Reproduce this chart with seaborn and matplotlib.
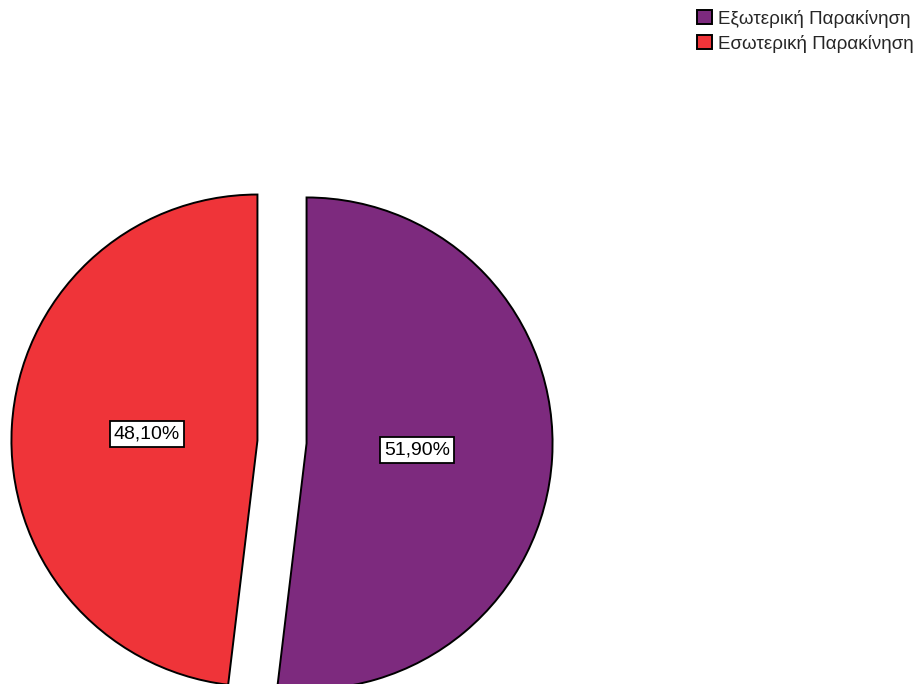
import matplotlib
matplotlib.use("Agg")
import matplotlib.pyplot as plt
import seaborn as sns

categories = ["Εξωτερική Παρακίνηση", "Εσωτερική Παρακίνηση"]
values = [51.9, 48.1]
colors = ["#7D2A7E", "#EF3439"]

sns.set_theme(style="white")
plt.rcParams['font.family'] = ['Liberation Sans', 'DejaVu Sans']

fig = plt.figure(figsize=(9.17, 6.84), dpi=100)
ax = fig.add_axes([0, 0, 1, 1])

R = 246.0
cx, cy = 282.0, 442.0
W, H = 917.0, 684.0

wedges, texts, autotexts = ax.pie(
    values, colors=colors, startangle=90, counterclock=False,
    explode=[0.1, 0.1], radius=1.0,
    autopct=lambda p: f"{p:.2f}".replace('.', ',') + "%",
    pctdistance=0.45,
    wedgeprops=dict(edgecolor="black", linewidth=1.4),
    textprops=dict(fontsize=14, color="black"),
)
for t in autotexts:
    t.set_bbox(dict(facecolor="white", edgecolor="black", linewidth=1.3, pad=3))
for w in wedges:
    w.set_clip_on(True)

ax.set_xlim(-cx / R, (W - cx) / R)
ax.set_ylim((cy - H) / R, cy / R)
ax.set_aspect("auto")
ax.axis("off")

leg = ax.legend(wedges, categories, loc="upper right", bbox_to_anchor=(1.0, 0.99),
                bbox_transform=fig.transFigure, frameon=False, fontsize=13.5,
                handlelength=0.8, handleheight=0.8, handletextpad=0.35,
                labelspacing=0.38, borderaxespad=0.0, borderpad=0.15)

fig.savefig("out.png", dpi=100)
